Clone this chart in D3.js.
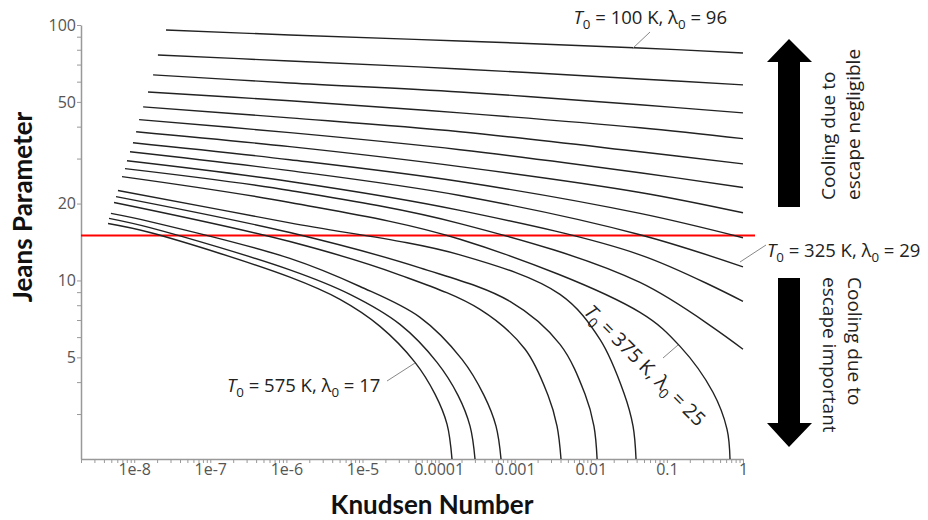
<!DOCTYPE html>
<html>
<head>
<meta charset="utf-8">
<script src="https://cdn.jsdelivr.net/npm/d3@7"></script>
<style>
  body { margin: 0; background: #fff; }
  svg { display: block; }
</style>
</head>
<body>
<div id="chart"></div>
<script>
// Jeans parameter against Knudsen number, one line per starting temperature
var width = 928;
var height = 520;

// [Knudsen number, Jeans parameter], top line first
var curve1 = [[2.62e-8, 95.6], [1.11e-6, 91.4], [1.91e-4, 86.6], [4.43e-2, 81.3], [1, 77.7]];
var curve2 = [[2.05e-8, 76.3], [1.11e-6, 72.3], [1.91e-4, 67.3], [4.43e-2, 61.5], [1, 58.3]];
var curve3 = [[1.77e-8, 63.8], [1.11e-6, 59.3], [1.91e-4, 54.7], [4.43e-2, 48.7], [1, 45.3]];
var curve4 = [[1.52e-8, 54.7], [1.11e-6, 50.5], [1.91e-4, 45.3], [4.43e-2, 39.6], [1, 35.9]];
var curve5 = [[1.31e-8, 47.8], [1.11e-6, 43.3], [1.91e-4, 38.2], [4.43e-2, 31.9], [1, 28.6]];
var curve6 = [[1.16e-8, 42.6], [1.11e-6, 37.9], [1.91e-4, 32.5], [4.43e-2, 26.4], [1, 23.1]];
var curve7 = [[1.06e-8, 38.2], [1.11e-6, 33.4], [1.91e-4, 27.9], [4.43e-2, 22.1], [1, 18.4]];
var curve8 = [[9.64e-9, 34.6], [1.11e-6, 29.7], [1.91e-4, 24.4], [4.43e-2, 18.3], [1, 14.7]];
var curve9 = [[8.81e-9, 31.9], [1.11e-6, 26.9], [1.91e-4, 21.5], [4.43e-2, 15.1], [1, 11.3]];
var curve10 = [[8.04e-9, 29.4], [1.11e-6, 24.4], [1.91e-4, 18.8], [4.43e-2, 12.6], [1, 8.28]];
var curve11 = [[7.57e-9, 27.4], [1.11e-6, 22.5], [1.91e-4, 16.7], [4.43e-2, 9.82], [1, 5.38]];
var curve12 = [[6.92e-9, 25.5], [1.11e-6, 20.2], [1.91e-4, 14.5], [4.43e-2, 7.50], [0.149, 5.52], [0.403, 3.65], [0.616, 2.62], [0.675, 2]];
var curve13 = [[6.12e-9, 22.5], [1.11e-6, 16.8], [1.91e-4, 12.6], [3.94e-3, 8.82], [1.32e-2, 5.88], [2.73e-2, 3.62], [3.59e-2, 2.69], [3.93e-2, 2]];
var curve14 = [[5.77e-9, 21.3], [1.11e-6, 15.4], [5.70e-5, 11.2], [8.67e-4, 8.28], [3.94e-3, 5.62], [8.39e-3, 3.59], [1.10e-2, 2.69], [1.21e-2, 2]];
var curve15 = [[5.43e-9, 20.2], [1.11e-6, 14.2], [3.11e-5, 10.5], [3.50e-4, 7.70], [1.37e-3, 5.38], [2.74e-3, 3.55], [3.60e-3, 2.69], [4.06e-3, 2]];
var curve16 = [[4.95e-9, 18.3], [1.61e-8, 17.0], [1.11e-6, 12.2], [9.27e-6, 9.47], [5.70e-5, 7.17], [2.03e-4, 4.91], [3.95e-4, 3.55], [5.68e-4, 2.69], [6.61e-4, 2]];
var curve17 = [[4.67e-9, 17.5], [1.61e-8, 16.1], [1.11e-6, 11.0], [6.85e-6, 8.82], [3.11e-5, 6.73], [9.53e-5, 4.78], [1.80e-4, 3.55], [2.59e-4, 2.69], [3.01e-4, 2]];
var curve18 = [[4.53e-9, 16.7], [1.61e-8, 15.4], [1.11e-6, 10.3], [5.06e-6, 8.43], [1.70e-5, 6.61], [4.90e-5, 4.78], [8.97e-5, 3.59], [1.29e-4, 2.74], [1.50e-4, 2]];

var curves = [curve1, curve2, curve3, curve4, curve5, curve6, curve7, curve8, curve9,
  curve10, curve11, curve12, curve13, curve14, curve15, curve16, curve17, curve18];

var xDomain = [2e-9, 1];
var yDomain = [2, 100];
var xTickValues = [1e-8, 1e-7, 1e-6, 1e-5, 1e-4, 1e-3, 1e-2, 1e-1, 1];
var xTickLabels = ['1e-8', '1e-7', '1e-6', '1e-5', '0.0001', '0.001', '0.01', '0.1', '1'];
var yTickValues = [5, 10, 20, 50, 100];
var yTickLabels = ['5', '10', '20', '50', '100'];
var escapeLimit = 15;

var svg = d3.select('#chart').append('svg')
  .attr('width', width)
  .attr('height', height);

var x = d3.scaleLog().domain(xDomain).range([81, 743]);
var y = d3.scaleLog().domain(yDomain).range([459, 25]);

var tickFont = "'Open Sans', sans-serif";

// axes: every 1..9 step gets a tick, only the listed ones get a label
var xAxis = d3.axisBottom(x)
  .tickValues(x.ticks())
  .tickSize(4)
  .tickSizeOuter(0)
  .tickPadding(1)
  .tickFormat(function(d) {
    var i = xTickValues.findIndex(function(v) { return Math.abs(v - d) / v < 1e-6; });
    return i < 0 ? '' : xTickLabels[i];
  });

var yAxis = d3.axisLeft(y)
  .tickValues(y.ticks().filter(function(d) { return d > yDomain[0]; }))
  .tickSize(4)
  .tickSizeOuter(0)
  .tickPadding(1)
  .tickFormat(function(d) {
    var i = yTickValues.indexOf(d);
    return i < 0 ? '' : yTickLabels[i];
  });

var gx = svg.append('g').attr('transform', 'translate(0,' + y.range()[0] + ')').call(xAxis);
var gy = svg.append('g').attr('transform', 'translate(' + x.range()[0] + ',0)').call(yAxis);

[gx, gy].forEach(function(g) {
  g.attr('font-family', tickFont).attr('font-size', 16);
  g.select('.domain').attr('stroke', '#999').attr('stroke-width', 1.5);
  g.selectAll('.tick line').attr('stroke', '#999');
  g.selectAll('.tick text').attr('fill', '#555');
});

// escape threshold
svg.append('line')
  .attr('x1', x.range()[0])
  .attr('x2', x.range()[1] + 12)
  .attr('y1', y(escapeLimit))
  .attr('y2', y(escapeLimit))
  .attr('stroke', '#ff0000')
  .attr('stroke-width', 2);

var line = d3.line()
  .x(function(d) { return x(d[0]); })
  .y(function(d) { return y(d[1]); })
  .curve(d3.curveCatmullRom.alpha(0.5));

svg.append('g').selectAll('path')
  .data(curves)
  .enter().append('path')
  .attr('d', line)
  .attr('fill', 'none')
  .attr('stroke', '#222')
  .attr('stroke-width', 1.4);

// axis titles
svg.append('text')
  .attr('x', 432)
  .attr('y', 514)
  .attr('text-anchor', 'middle')
  .attr('font-family', 'Lato, sans-serif')
  .attr('font-weight', 'bold')
  .attr('font-size', 26)
  .attr('fill', '#111')
  .text('Knudsen Number');

svg.append('text')
  .attr('transform', 'translate(32,207) rotate(-90)')
  .attr('text-anchor', 'middle')
  .attr('font-family', 'Lato, sans-serif')
  .attr('font-weight', 'bold')
  .attr('font-size', 26)
  .attr('fill', '#111')
  .text('Jeans Parameter');

// curve labels
var labelFont = "'Open Sans', sans-serif";
function tLabel(sel, T, lam, size) {
  sel.attr('font-family', labelFont).attr('font-size', size).attr('fill', '#222');
  sel.append('tspan').attr('font-style', 'italic').text('T');
  sel.append('tspan').attr('dy', 5).attr('font-size', size * 0.72).text('0');
  sel.append('tspan').attr('dy', -5).text(' = ' + T + ' K, \u03bb');
  sel.append('tspan').attr('dy', 5).attr('font-size', size * 0.72).text('0');
  sel.append('tspan').attr('dy', -5).text(' = ' + lam);
  return sel;
}

svg.append('text').attr('x', 727).attr('y', 24).attr('text-anchor', 'end')
  .call(tLabel, 100, 96, 18.5);
svg.append('text').attr('x', 767).attr('y', 257)
  .call(tLabel, 325, 29, 18.5);
svg.append('text').attr('x', 227).attr('y', 392)
  .call(tLabel, 575, 17, 18.5);
svg.append('text').attr('transform', 'translate(583,313) rotate(45)')
  .call(tLabel, 375, 25, 19.5);

var leaders = [[632, 49, 650, 32], [740, 262, 766, 245], [387, 381, 415, 363], [663, 358, 678, 345]];
svg.append('g').selectAll('line')
  .data(leaders)
  .enter().append('line')
  .attr('x1', function(d) { return d[0]; })
  .attr('y1', function(d) { return d[1]; })
  .attr('x2', function(d) { return d[2]; })
  .attr('y2', function(d) { return d[3]; })
  .attr('stroke', '#888')
  .attr('stroke-width', 1);

// arrows on the right
var upArrow = [[789, 39], [812, 62], [800, 62], [800, 207], [778, 207], [778, 62], [767, 62]];
var downArrow = [[789, 447], [812, 423], [800, 423], [800, 278], [778, 278], [778, 423], [767, 423]];
svg.selectAll('polygon')
  .data([upArrow, downArrow])
  .enter().append('polygon')
  .attr('points', function(d) { return d.join(' '); })
  .attr('fill', '#000');

var up = svg.append('text')
  .attr('transform', 'translate(835,200) rotate(-90)')
  .attr('font-family', labelFont).attr('font-size', 19).attr('fill', '#222');
up.append('tspan').attr('x', 0).attr('dy', 0).text('Cooling due to');
up.append('tspan').attr('x', 0).attr('dy', 25).text('escape negligible');

var down = svg.append('text')
  .attr('transform', 'translate(848,277) rotate(90)')
  .attr('font-family', labelFont).attr('font-size', 19).attr('fill', '#222');
down.append('tspan').attr('x', 0).attr('dy', 0).text('Cooling due to');
down.append('tspan').attr('x', 0).attr('dy', 25).text('escape important');
</script>
</body>
</html>
